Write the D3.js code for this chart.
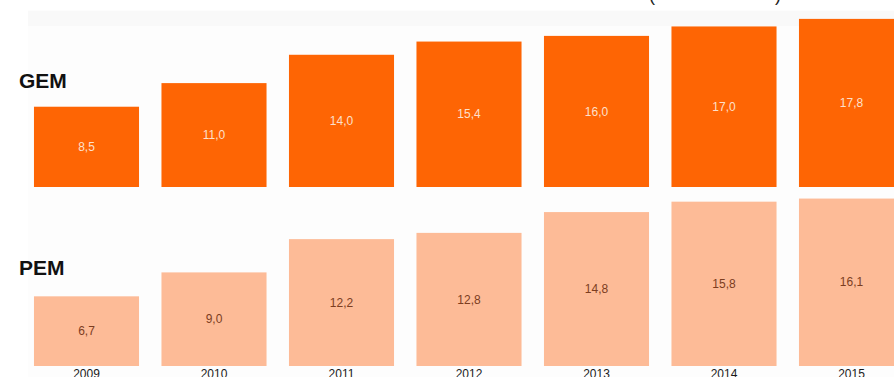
<!DOCTYPE html>
<html>
<head>
<meta charset="utf-8">
<script src="https://cdn.jsdelivr.net/npm/d3@7"></script>
<style>
  html, body { margin: 0; padding: 0; background: #fff; overflow: hidden; }
  svg { display: block; font-family: "Liberation Sans", Arial, sans-serif; }
</style>
</head>
<body>
<svg id="chart" width="894" height="377"></svg>
<script>
const years = ["2009", "2010", "2011", "2012", "2013", "2014", "2015"];
const gemValues = [8.5, 11.0, 14.0, 15.4, 16.0, 17.0, 17.8];
const pemValues = [6.7, 9.0, 12.2, 12.8, 14.8, 15.8, 16.1];
const seriesNames = ["GEM", "PEM"];

const svg = d3.select("#chart");
const width = 894, height = 377;

const fmt = d3.formatLocale({decimal: ",", thousands: ".", grouping: [3], currency: ["", ""]}).format(".1f");

// faint backdrop and header strip
svg.append("rect").attr("x", 28).attr("y", 10).attr("width", width - 28).attr("height", height - 10).attr("fill", "#fdfdfd");
svg.append("rect").attr("x", 28).attr("y", 11).attr("width", width - 28).attr("height", 15).attr("fill", "#f9f9f9");

// clipped title parentheses at the top edge
svg.append("text").attr("x", 652).attr("y", 1).attr("font-size", 18).attr("text-anchor", "middle").attr("fill", "#222").text("(");
svg.append("text").attr("x", 778).attr("y", 1).attr("font-size", 18).attr("text-anchor", "middle").attr("fill", "#222").text(")");

const x = d3.scaleBand()
  .domain(years)
  .range([22.75, 915.25])
  .paddingInner(0.176)
  .paddingOuter(0.088);

const gemY = d3.scaleLinear().domain([0, 18]).range([187, 17]);
const pemY = d3.scaleLinear().domain([0, 18]).range([366, 178.8]);

const panels = [
  {name: seriesNames[0], values: gemValues, y: gemY, fill: "#fe6504", label: "#fde0cc", titleY: 88},
  {name: seriesNames[1], values: pemValues, y: pemY, fill: "#fdbb97", label: "#7c3d1f", titleY: 275}
];

panels.forEach(p => {
  const g = svg.append("g");
  g.selectAll("rect.bar")
    .data(years)
    .enter().append("rect")
    .attr("class", "bar")
    .attr("x", d => x(d))
    .attr("width", x.bandwidth())
    .attr("y", (d, i) => p.y(p.values[i]))
    .attr("height", (d, i) => p.y(0) - p.y(p.values[i]))
    .attr("fill", p.fill);

  g.selectAll("text.val")
    .data(years)
    .enter().append("text")
    .attr("class", "val")
    .attr("x", d => x(d) + x.bandwidth() / 2)
    .attr("y", (d, i) => (p.y(p.values[i]) + p.y(0)) / 2)
    .attr("dy", "0.35em")
    .attr("text-anchor", "middle")
    .attr("font-size", 12)
    .attr("fill", p.label)
    .text((d, i) => fmt(p.values[i]));

  svg.append("text")
    .attr("x", 19)
    .attr("y", p.titleY)
    .attr("font-size", 21)
    .attr("font-weight", "bold")
    .attr("fill", "#111")
    .text(p.name);
});

// year axis
const xAxis = svg.append("g")
  .attr("transform", `translate(0,${pemY(0)})`)
  .call(d3.axisBottom(x).tickSize(0).tickPadding(3));
xAxis.select(".domain").remove();
xAxis.selectAll("text")
  .attr("font-size", 12)
  .attr("font-family", "'Liberation Sans', Arial, sans-serif")
  .attr("fill", "#1a1a1a");
</script>
</body>
</html>
